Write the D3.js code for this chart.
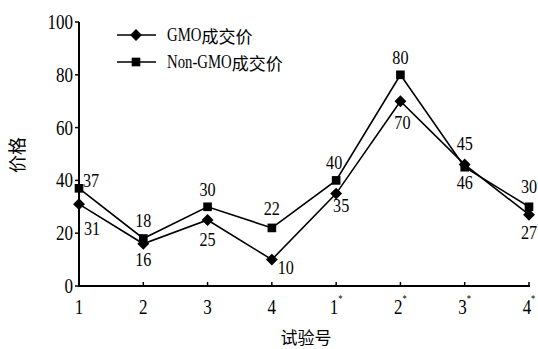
<!DOCTYPE html>
<html><head><meta charset="utf-8">
<script src="https://cdn.jsdelivr.net/npm/d3@7"></script>
<style>body{margin:0;background:#fff}svg{display:block}</style>
</head><body>
<script>
// ---- data ----
const categories = ["1","2","3","4","1*","2*","3*","4*"];
const gmo = [31,16,25,10,35,70,46,27];
const nonGmo = [37,18,30,22,40,80,45,30];
const yTicks = [0,20,40,60,80,100];
const seriesNames = ["GMO成交价","Non-GMO成交价"];
// label offsets (layout only)
const gmoLabelOff = [[13,24],[0,16],[0,20],[14,8],[5,12],[2,21],[0,18],[0,18]];
const nonLabelOff = [[12,-8],[0,-18],[0,-17],[0,-19],[-2,-18],[0,-17],[0,-24],[0,-20]];

const W=538,H=349;
const svg=d3.select("body").append("svg").attr("width",W).attr("height",H);
const x=d3.scalePoint().domain(categories).range([79,529]);
const y=d3.scaleLinear().domain([0,100]).range([286,22]);
const serif="'Liberation Serif','Times New Roman',serif";
const cjk="'Noto Sans CJK SC',sans-serif";

function sText(g,xx,yy,txt,size,sx,anchor){
  const gg=g.append("g").attr("transform",`translate(${xx},${yy})`);
  return gg.append("text").attr("transform",`scale(${sx},1)`)
    .attr("text-anchor",anchor||"middle").attr("dominant-baseline","central")
    .attr("font-family",serif).attr("font-size",size).attr("fill","#000").text(txt);
}

// axes
const ax=svg.append("g");
ax.append("line").attr("x1",79).attr("x2",79).attr("y1",y(100)).attr("y2",y(0)+1).attr("stroke","#000").attr("stroke-width",2);
ax.append("line").attr("x1",78).attr("x2",530).attr("y1",y(0)).attr("y2",y(0)).attr("stroke","#000").attr("stroke-width",2);
yTicks.forEach(t=>{
  ax.append("line").attr("x1",75).attr("x2",79).attr("y1",y(t)).attr("y2",y(t)).attr("stroke","#000").attr("stroke-width",1.5);
  sText(ax,73,y(t),String(t),20,0.85,"end");
});
categories.forEach((c,i)=>{
  if(i>0) ax.append("line").attr("x1",x(c)).attr("x2",x(c)).attr("y1",y(0)).attr("y2",y(0)-4).attr("stroke","#000").attr("stroke-width",1.5);
  const base=c.replace("*","");
  const g=ax.append("g").attr("transform",`translate(${x(c)},${y(0)+20})`);
  const t=g.append("text").attr("transform","scale(0.85,1)").attr("text-anchor","middle").attr("dominant-baseline","central")
    .attr("font-family",serif).attr("font-size",20);
  t.append("tspan").text(base);
  if(c.includes("*")) t.append("tspan").attr("font-size",10).attr("dy",-7).text("*");
});

// axis titles
svg.append("text").attr("transform",`translate(16,155) rotate(-90)`).attr("text-anchor","middle").attr("dominant-baseline","central")
  .attr("font-family",cjk).attr("font-size",18).text("价格");
svg.append("text").attr("x",306).attr("y",336).attr("text-anchor","middle").attr("dominant-baseline","central")
  .attr("font-family",cjk).attr("font-size",17).text("试验号");

// lines
const line=d3.line().x((d,i)=>x(categories[i])).y(d=>y(d));
[gmo,nonGmo].forEach(s=>{
  svg.append("path").attr("d",line(s)).attr("fill","none").attr("stroke","#000").attr("stroke-width",1.6);
});
const diamond=d3.symbol().type(d3.symbolDiamond2).size(90)();
const square=d3.symbol().type(d3.symbolSquare2).size(95)();
gmo.forEach((v,i)=>svg.append("path").attr("d",diamond).attr("transform",`translate(${x(categories[i])},${y(v)})`).attr("fill","#000"));
nonGmo.forEach((v,i)=>svg.append("path").attr("d",square).attr("transform",`translate(${x(categories[i])},${y(v)})`).attr("fill","#000"));

// data labels
gmo.forEach((v,i)=>sText(svg,x(categories[i])+gmoLabelOff[i][0],y(v)+gmoLabelOff[i][1],String(v),19,0.85));
nonGmo.forEach((v,i)=>sText(svg,x(categories[i])+nonLabelOff[i][0],y(v)+nonLabelOff[i][1],String(v),19,0.85));

// legend
const lg=svg.append("g");
[[35,diamond,"GMO","成交价"],[62,square,"Non-GMO","成交价"]].forEach((r,k)=>{
  const yy=r[0];
  lg.append("line").attr("x1",117).attr("x2",156).attr("y1",yy).attr("y2",yy).attr("stroke","#000").attr("stroke-width",1.6);
  lg.append("path").attr("d",r[1]).attr("transform",`translate(136,${yy})`).attr("fill","#000");
  const latin=sText(lg,167,yy,r[2],18,0.82,"start");
  const wl=latin.node().getComputedTextLength()*0.82;
  lg.append("text").attr("x",167+wl).attr("y",yy).attr("dominant-baseline","central")
    .attr("font-family",cjk).attr("font-size",17).text(r[3]);
});
</script>
</body></html>
